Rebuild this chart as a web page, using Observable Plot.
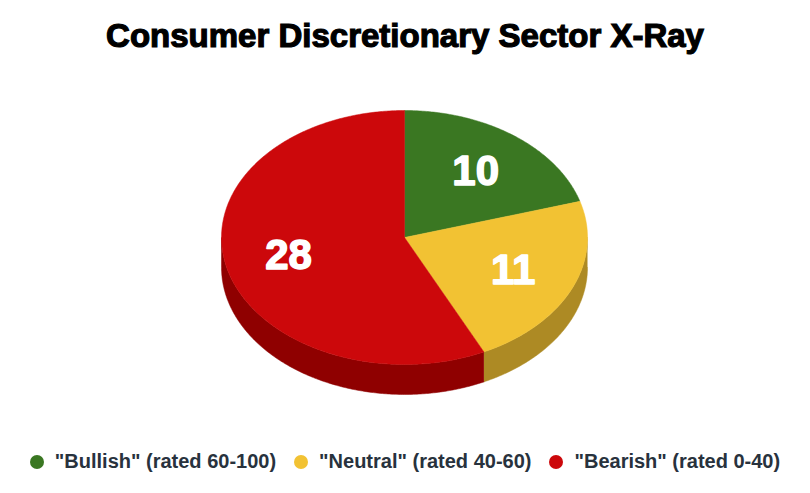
<!DOCTYPE html>
<html>
<head>
<meta charset="utf-8">
<script src="https://cdn.jsdelivr.net/npm/d3@7"></script>
<script src="https://cdn.jsdelivr.net/npm/@observablehq/plot@0.6"></script>
<style>
  html, body { margin: 0; padding: 0; background: #fff; }
  #wrap { width: 810px; height: 493px; position: relative; }
  #title { height: 70px; line-height: 72px; text-align: center; font-family: "Liberation Sans", Arial, sans-serif; font-weight: bold; font-size: 33px; color: #000; -webkit-text-stroke: 1.2px #000; letter-spacing: 0px; }
  #legend { height: 53px; display: flex; justify-content: center; align-items: flex-start; padding-top: 10px; box-sizing: border-box; font-family: "Liberation Sans", Arial, sans-serif; font-weight: bold; font-size: 20px; color: #28323d; }
  .item { display: flex; align-items: center; margin: 0 9px; }
  .dot { width: 14px; height: 14px; border-radius: 50%; margin-right: 11px; }
  svg { display: block; }
</style>
</head>
<body>
<div id="wrap">
  <div id="title">Consumer Discretionary Sector X-Ray</div>
  <div id="chart"></div>
  <div id="legend"></div>
</div>
<script>
const categories = ["\"Bullish\"", "\"Neutral\"", "\"Bearish\""];
const ratings = ["(rated 60-100)", "(rated 40-60)", "(rated 0-40)"];
const counts = [10, 11, 28];
const topColors = ["#3a7722", "#f2c233", "#cc080b"];
const sideColors = ["#2a5a18", "#ad8a24", "#8f0000"];

const depth = 0.236;
const arcs = d3.pie().sort(null).value(d => d)(counts);

function arcPts(a0, a1, dy) {
  const n = Math.max(2, Math.ceil((a1 - a0) / 0.01));
  const pts = [];
  for (let i = 0; i <= n; i++) {
    const a = a0 + (a1 - a0) * i / n;
    pts.push({x: Math.sin(a), y: Math.cos(a) - dy});
  }
  return pts;
}

const marks = [];
// side walls (front half only)
arcs.forEach((a, i) => {
  const s = Math.max(a.startAngle, Math.PI / 2);
  const e = Math.min(a.endAngle, 3 * Math.PI / 2);
  if (e > s) {
    const poly = [...arcPts(s, e, 0), ...arcPts(s, e, depth).reverse()];
    marks.push(Plot.line(poly, {x: "x", y: "y", fill: sideColors[i], stroke: sideColors[i], strokeWidth: 0.5}));
  }
});
// top faces
arcs.forEach((a, i) => {
  const poly = [{x: 0, y: 0}, ...arcPts(a.startAngle, a.endAngle, 0), {x: 0, y: 0}];
  marks.push(Plot.line(poly, {x: "x", y: "y", fill: topColors[i], stroke: topColors[i], strokeWidth: 0.5}));
});
// labels
const labels = arcs.map((a, i) => {
  const m = (a.startAngle + a.endAngle) / 2;
  const r = 0.65;
  return {x: r * Math.sin(m), y: r * Math.cos(m), text: String(counts[i])};
});
marks.push(Plot.text(labels, {x: "x", y: "y", text: "text", fill: "white", stroke: "white", strokeWidth: 1.5, fontSize: 42, fontWeight: "bold", fontFamily: "Liberation Sans, Arial, sans-serif"}));

const chart = Plot.plot({
  width: 810,
  height: 370,
  margin: 0,
  x: {domain: [-1, 1], range: [221, 587], axis: null},
  y: {domain: [-1, 1], range: [294, 40], axis: null},
  marks
});
document.getElementById("chart").appendChild(chart);

const legend = document.getElementById("legend");
categories.forEach((c, i) => {
  const it = document.createElement("div");
  it.className = "item";
  const dot = document.createElement("span");
  dot.className = "dot";
  dot.style.background = topColors[i];
  const t = document.createElement("span");
  t.textContent = c + " " + ratings[i];
  it.appendChild(dot);
  it.appendChild(t);
  legend.appendChild(it);
});
</script>
</body>
</html>
